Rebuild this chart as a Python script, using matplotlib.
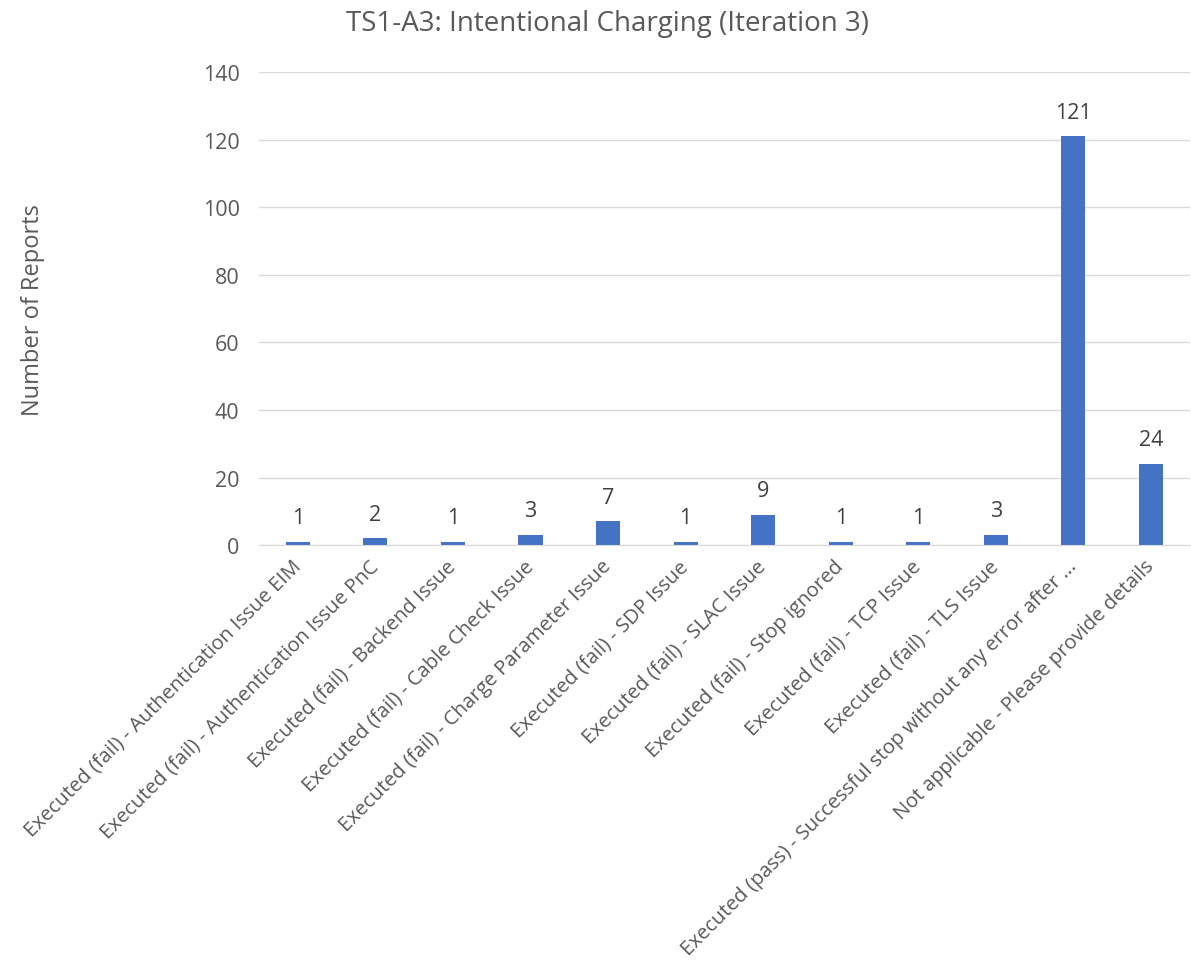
import matplotlib.pyplot as plt
import numpy as np

plt.rcParams['font.family'] = ['Open Sans', 'DejaVu Sans']

categories = [
    "Executed (fail) - Authentication Issue EIM",
    "Executed (fail) - Authentication Issue PnC",
    "Executed (fail) - Backend Issue",
    "Executed (fail) - Cable Check Issue",
    "Executed (fail) - Charge Parameter Issue",
    "Executed (fail) - SDP Issue",
    "Executed (fail) - SLAC Issue",
    "Executed (fail) - Stop ignored",
    "Executed (fail) - TCP Issue",
    "Executed (fail) - TLS Issue",
    "Executed (pass) - Successful stop without any error after ...",
    "Not applicable - Please provide details",
]
reports = [1, 2, 1, 3, 7, 1, 9, 1, 1, 3, 121, 24]
yticks = [0, 20, 40, 60, 80, 100, 120, 140]

text_col = '#595959'
bar_col = '#4472C4'
grid_col = '#D9D9D9'

fig = plt.figure(figsize=(11.91, 9.70), dpi=100)
ax = fig.add_axes([0.2175, 0.437, 0.7815, 0.4877])

x = np.arange(len(categories))
bars = ax.bar(x, reports, width=0.31, color=bar_col, zorder=3)
for b, v in zip(bars, reports):
    ax.text(b.get_x() + b.get_width() / 2, v + 4, str(v), ha='center', va='bottom',
            fontsize=15.5, color='#404040')

ax.set_xlim(-0.5, len(categories) - 0.5)
ax.set_ylim(0, 140)
ax.set_yticks(yticks)
ax.yaxis.grid(True, color=grid_col, linewidth=1, zorder=0)
ax.set_xticks(x)
ax.set_xticklabels(categories, rotation=45, ha='right', va='center', rotation_mode='anchor',
                   fontsize=14.6, color=text_col)
ax.tick_params(axis='y', labelsize=15.5, labelcolor=text_col, length=0, pad=14)
ax.tick_params(axis='x', length=0, pad=13)

for s in ['top', 'right', 'left']:
    ax.spines[s].set_visible(False)
ax.spines['bottom'].set_color(grid_col)
ax.spines['bottom'].set_zorder(4)

ax.set_ylabel("Number of Reports", fontsize=17, color=text_col)
ax.yaxis.set_label_coords(-0.23, 0.5)
fig.text(0.51, 0.975, "TS1-A3: Intentional Charging (Iteration 3)", ha='center', va='center',
         fontsize=20, color=text_col)

fig.savefig('out.png', dpi=100)
